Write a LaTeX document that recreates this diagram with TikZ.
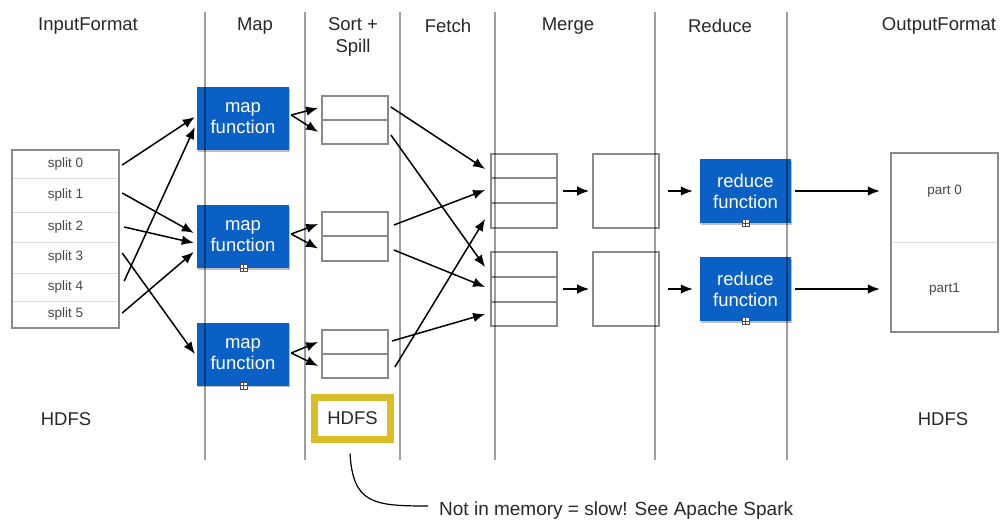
\documentclass[tikz,border=0pt]{standalone}
\usepackage{fontspec}
\setmainfont{Liberation Sans}
\usetikzlibrary{arrows.meta,calc,shadows}
\definecolor{mrblue}{RGB}{10,96,196}
\definecolor{boxgray}{RGB}{136,138,140}
\definecolor{lightdiv}{RGB}{218,220,222}
\definecolor{txt}{RGB}{40,40,40}
\definecolor{hdfsyellow}{RGB}{217,190,40}
\begin{document}
\begin{tikzpicture}[x=1pt,y=-1pt,
  hdr/.style={font=\fontsize{18.5}{22}\selectfont, text=txt, align=center, inner sep=0pt},
  lane/.style={draw=black, draw opacity=0.38, line width=1.5pt},
  fn/.style={fill=mrblue, text=white, font=\fontsize{18.5}{21}\selectfont, align=center, inner sep=0pt,
    minimum width=92pt, minimum height=63pt,
    drop shadow={shadow xshift=1pt, shadow yshift=-1.5pt, opacity=0.25, fill=black}},
  cell/.style={draw=boxgray, line width=1.8pt, fill=white, minimum width=66pt, inner sep=0pt},
  splitrow/.style={font=\fontsize{13.5}{15}\selectfont, text=txt!85, minimum width=107pt, inner sep=0pt},
  arr/.style={-{Latex[length=12pt,width=9.5pt]}, line width=1.5pt, black},
  plusbox/.style={draw=black!70, fill=white, line width=0.5pt, minimum size=7pt, inner sep=0pt,
    path picture={\draw[line width=0.5pt] (path picture bounding box.north) -- (path picture bounding box.south)
      (path picture bounding box.west) -- (path picture bounding box.east);}},
  parttext/.style={font=\fontsize{13.5}{15}\selectfont, text=txt!85, minimum width=107pt, inner sep=0pt}
]
\useasboundingbox[fill=white] (0,0) rectangle (1000,520);

% headers
\node[hdr] (hIn) at (88,26) {InputFormat};
\node[hdr] (hMap) at (255,26) {Map};
\node[hdr] (hSort) at (353,37) {Sort +\\Spill};
\node[hdr] (hFetch) at (448,26) {Fetch};
\node[hdr] (hMerge) at (568,26) {Merge};
\node[hdr] (hReduce) at (720,26) {Reduce};
\node[hdr] (hOut) at (939,26) {OutputFormat};

% splits
\node[splitrow, minimum height=28pt] (split0) at (65.5,164) {split 0};
\node[splitrow, minimum height=34pt] (split1) at (65.5,195) {split 1};
\node[splitrow, minimum height=30pt] (split2) at (65.5,227) {split 2};
\node[splitrow, minimum height=31pt] (split3) at (65.5,257.5) {split 3};
\node[splitrow, minimum height=28pt] (split4) at (65.5,287) {split 4};
\node[splitrow, minimum height=27pt] (split5) at (65.5,314.5) {split 5};
\foreach \s in {split0,split1,split2,split3,split4}
  \draw[lightdiv, line width=1pt] (\s.south west) -- (\s.south east);
\node[draw=boxgray, line width=1.8pt, minimum width=107pt, minimum height=178pt, inner sep=0pt] (splits) at (65.5,239) {};

% map functions
\node[fn] (map1) at (243,118.5) {map\\function};
\node[fn] (map2) at (243,236.5) {map\\function};
\node[fn] (map3) at (243,354) {map\\function};
\node[plusbox] (pl1) at ($(map2.south)+(0.5,0)$) {};
\node[plusbox] (pl2) at ($(map3.south)+(0.5,0)$) {};

% spill cells
\node[cell, minimum height=24pt] (sp1a) at (355,108) {};
\node[cell, minimum height=24pt] (sp1b) at (355,132) {};
\node[cell, minimum height=24pt] (sp2a) at (355,224) {};
\node[cell, minimum height=24.5pt] (sp2b) at (355,248.5) {};
\node[cell, minimum height=24pt] (sp3a) at (355,342) {};
\node[cell, minimum height=24pt] (sp3b) at (355,366) {};

% merge cells
\node[cell, minimum height=24pt] (mg1a) at (524,166) {};
\node[cell, minimum height=25pt] (mg1b) at (524,190.5) {};
\node[cell, minimum height=25pt] (mg1c) at (524,215.5) {};
\node[cell, minimum height=25pt] (mg2a) at (524,264.5) {};
\node[cell, minimum height=25pt] (mg2b) at (524,289.5) {};
\node[cell, minimum height=24pt] (mg2c) at (524,314) {};

% merged squares
\node[cell, minimum height=74pt] (sq1) at (626,191) {};
\node[cell, minimum height=74pt] (sq2) at (626,289) {};

% reduce
\node[fn, minimum width=91pt, minimum height=64pt] (red1) at (745.5,191) {reduce\\function};
\node[fn, minimum width=91pt, minimum height=64pt] (red2) at (745.5,289) {reduce\\function};
\node[plusbox] (pl3) at (red1.south) {};
\node[plusbox] (pl4) at (red2.south) {};

% output
\node[parttext] (part0) at (944.5,191) {part 0};
\node[parttext] (part1) at (944.5,289) {part1};
\draw[lightdiv, line width=1pt] (891,242) -- (998,242);
\node[draw=boxgray, line width=1.8pt, minimum width=107pt, minimum height=179pt, inner sep=0pt] (outbox) at (944.5,242.5) {};

% lanes
\foreach \x in {205,305,400,495,655,787}
  \draw[lane] (\x,12) -- (\x,460);

% split -> map arrows
\draw[arr] ($(split0.east)+(3,1)$) -- ($(map1.west)+(-2,-1.5)$);
\draw[arr] ($(split4.east)+(5,-6)$) -- ($(map1.west)+(-2,8.5)$);
\draw[arr] ($(split1.east)+(3,-2)$) -- ($(map2.west)+(-3,-3.5)$);
\draw[arr] ($(split2.east)+(5,0)$) -- ($(map2.west)+(-3,6.5)$);
\draw[arr] ($(split5.east)+(3,-1.5)$) -- ($(map2.west)+(-3,15.5)$);
\draw[arr] ($(split3.east)+(3,-4.5)$) -- ($(map3.west)+(-2,0)$);

% map -> spill arrows
\draw[arr] ($(map1.east)+(2,-3.5)$) -- ([xshift=-3pt]sp1a.west);
\draw[arr] ($(map1.east)+(2,-3.5)$) -- ([xshift=-3pt]sp1b.west);
\draw[arr] ($(map2.east)+(2,-2.5)$) -- ([xshift=-3pt]sp2a.west);
\draw[arr] ($(map2.east)+(2,-2.5)$) -- ([xshift=-3pt]sp2b.west);
\draw[arr] ($(map3.east)+(2,-1)$) -- ([xshift=-3pt]sp3a.west);
\draw[arr] ($(map3.east)+(2,-1)$) -- ([xshift=-3pt]sp3b.west);

% spill -> merge arrows
\draw[arr] ($(sp1a.east)+(2,-1)$) -- ($(mg1a.west)+(-5,3)$);
\draw[arr] ($(sp1b.east)+(2,3)$) -- ($(mg2a.west)+(-5,2.5)$);
\draw[arr] ($(sp2a.east)+(5,1)$) -- ($(mg1b.west)+(-5,-0.5)$);
\draw[arr] ($(sp2b.east)+(5,1.5)$) -- ($(mg2b.west)+(-5,-2.5)$);
\draw[arr] ($(sp3a.east)+(3,-1)$) -- ($(mg2c.west)+(-5,0)$);
\draw[arr] ($(sp3b.east)+(6,1)$) -- ($(mg1c.west)+(-5,3.5)$);

% merge -> square -> reduce -> output
\draw[arr] ($(mg1b.east)+(5,0.5)$) -- ([xshift=-3pt]sq1.west);
\draw[arr] ($(mg2b.east)+(5,-0.5)$) -- ([xshift=-3pt]sq2.west);
\draw[arr] ([xshift=8pt]sq1.east) -- ([xshift=-7pt]red1.west);
\draw[arr] ([xshift=8pt]sq2.east) -- ([xshift=-7pt]red2.west);
\draw[arr] ([xshift=4pt]red1.east) -- ([xshift=-11pt]part0.west);
\draw[arr] ([xshift=4pt]red2.east) -- ([xshift=-11pt]part1.west);

% HDFS labels
\node[hdr] (hdfsL) at (66,419) {HDFS};
\node[hdr] (hdfsR) at (943,419) {HDFS};
\node[hdr, draw=hdfsyellow, line width=7pt, fill=white, minimum width=76pt, minimum height=42pt] (hdfsbox) at (352.5,418.5) {HDFS};

% note
\node[hdr, anchor=west, font=\fontsize{19}{22}\selectfont] (note) at (439,511) {Not in memory = slow! See Apache Spark};
\coordinate (c1) at ($(hdfsbox.south)+(-2.5,10.5)$);
\coordinate (c2) at ($(note.west)+(-11,-5)$);
\draw[line width=1.2pt] (c1) .. controls ($(c1)+(3,50)$) and ($(c2)+(-55,0)$) .. (c2);
\end{tikzpicture}
\end{document}
